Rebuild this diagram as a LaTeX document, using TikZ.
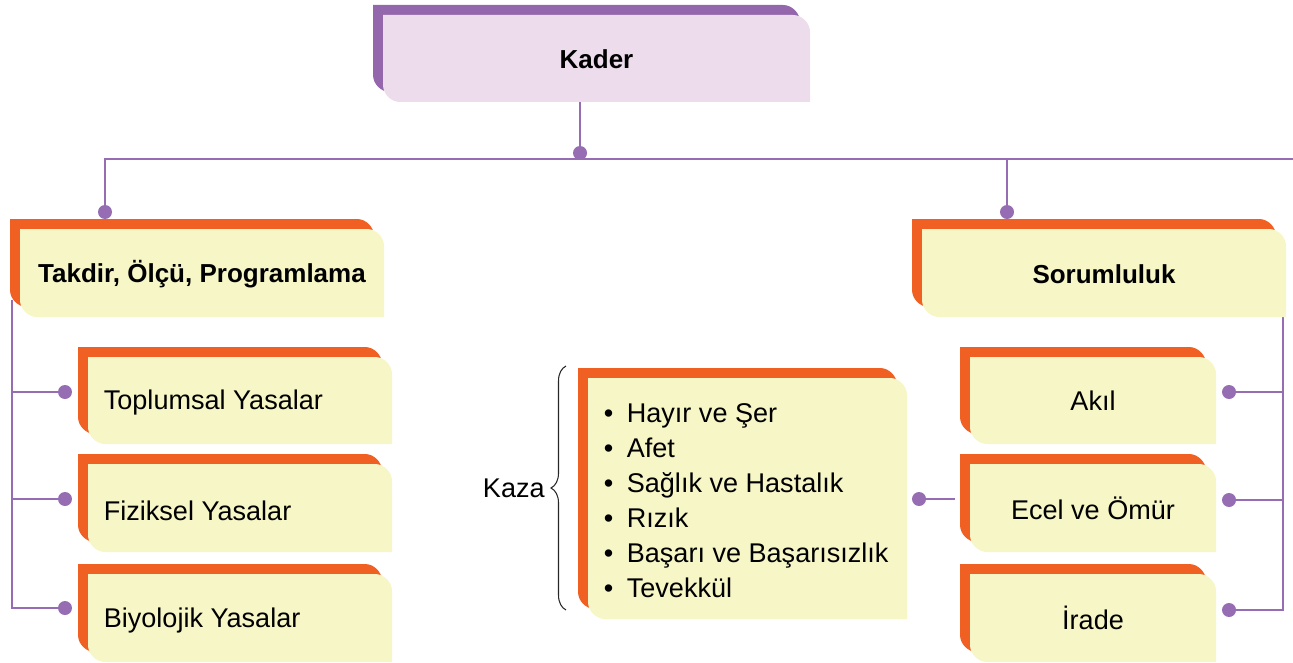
\documentclass[tikz,border=0pt]{standalone}
\usepackage{fontspec}
\setmainfont{Liberation Sans}
\usetikzlibrary{fit,backgrounds,decorations.pathreplacing}

\definecolor{kaderback}{RGB}{148,103,173}
\definecolor{kaderfront}{RGB}{236,220,236}
\definecolor{tagback}{RGB}{241,96,35}
\definecolor{tagfront}{RGB}{247,246,198}
\definecolor{linkcol}{RGB}{150,108,178}

% tab shape: square top-left, rounded top-right and bottom-left
\newcommand\panelshape[5]{%
  \fill[#5] (#1,#2) -- ({#3-17},#2) .. controls ({#3-8},#2) and (#3,{#2+8}) .. (#3,{#2+17})
    -- (#3,#4) -- ({#1+17},#4) .. controls ({#1+8},#4) and (#1,{#4-8}) .. (#1,{#4-17}) -- cycle;}
\newcommand\panel[7]{%
  \begin{scope}[shift={(-10,-10)}]\panelshape{#2}{#3}{#4}{#5}{#6}\end{scope}
  \panelshape{#2}{#3}{#4}{#5}{#7}
  \node[fit={(#2,#3) (#4,#5)}, inner sep=0pt] (#1) {};}

\begin{document}
\begin{tikzpicture}[x=0.02cm,y=-0.02cm,
  link/.style={draw=linkcol,line width=1.5pt},
  dot/.style={circle,fill=linkcol,inner sep=0pt,minimum size=0.28cm},
  head/.style={font=\fontsize{14.8}{18}\selectfont\bfseries},
  item/.style={font=\fontsize{15.4}{19.9}\selectfont}]

	\useasboundingbox (0,0) rectangle (1293,662);

	%boxes
	\panel{kader}{383}{15}{810}{102}{kaderback}{kaderfront}
	\panel{takdir}{20}{229}{384}{317}{tagback}{tagfront}
	\panel{sorum}{922}{229}{1286}{317}{tagback}{tagfront}
	\panel{toplum}{88}{357}{392}{444}{tagback}{tagfront}
	\panel{fizik}{88}{464}{392}{552}{tagback}{tagfront}
	\panel{biyo}{88}{574}{392}{662}{tagback}{tagfront}
	\panel{kaza}{588}{378}{907}{619}{tagback}{tagfront}
	\panel{akil}{970}{357}{1216}{444}{tagback}{tagfront}
	\panel{ecel}{970}{464}{1216}{552}{tagback}{tagfront}
	\panel{irade}{970}{574}{1216}{662}{tagback}{tagfront}

	%texts
	\node[head] (kaderT) at ([yshift=-0.02cm]kader.center) {Kader};
	\node[head] (takdirT) at ([yshift=-0.02cm]takdir.center) {Takdir, Ölçü, Programlama};
	\node[head] (sorumT) at ([yshift=-0.02cm]sorum.center) {Sorumluluk};
	\node[item,anchor=west] (toplumT) at ([xshift=0.2cm,yshift=-0.05cm]toplum.west) {Toplumsal Yasalar};
	\node[item,anchor=west] (fizikT) at ([xshift=0.2cm,yshift=-0.05cm]fizik.west) {Fiziksel Yasalar};
	\node[item,anchor=west] (biyoT) at ([xshift=0.2cm,yshift=-0.05cm]biyo.west) {Biyolojik Yasalar};
	\node[item] (akilT) at (akil.center) {Akıl};
	\node[item] (ecelT) at (ecel.center) {Ecel ve Ömür};
	\node[item] (iradeT) at (irade.center) {İrade};
	\node[item,align=left,anchor=west] (kazaT) at ([xshift=0.2cm,yshift=-0.04cm]kaza.west)
		{•\enspace Hayır ve Şer\\ •\enspace Afet\\ •\enspace Sağlık ve Hastalık\\
		 •\enspace Rızık\\ •\enspace Başarı ve Başarısızlık\\ •\enspace Tevekkül};

	%brace
	\coordinate (braceB) at (566,610);
	\coordinate (braceT) at (566,366);
	\draw[decorate,decoration={brace,amplitude=0.3cm},black!85,line width=0.6pt]
		(braceB) -- (braceT) node[midway,left=0.3cm,item,black] (kazaL) {Kaza};

	%dots
	\node[dot] (dK) at (580,153) {};
	\node[dot] (dT) at (105,212) {};
	\node[dot] (dS) at (1007,212) {};
	\node[dot] (d1) at (65,392) {};
	\node[dot] (d2) at (65,499) {};
	\node[dot] (d3) at (65,608) {};
	\node[dot] (dA) at (1229,392) {};
	\node[dot] (dE) at (1229,500) {};
	\node[dot] (dI) at (1229,610) {};
	\node[dot] (dKaza) at (919,499) {};

	\coordinate (hub) at (580,159);
	\coordinate (rightend) at (1293,159);
	\coordinate (lspine) at (12,300);
	\coordinate (rspine) at (1283,300);
	\coordinate (ecelIn) at (955,499);

	%connectors
	\begin{scope}[on background layer]
		\draw[link] (kader.south -| hub) -- (dK.center);
		\draw[link] (dT.center) |- (rightend);
		\draw[link] (dS.center) -- (dS.center |- hub);
		\draw[link] (lspine) |- (d1.center);
		\draw[link] (lspine) |- (d2.center);
		\draw[link] (lspine) |- (d3.center);
		\draw[link] (rspine) |- (dA.center);
		\draw[link] (rspine) |- (dE.center);
		\draw[link] (rspine) |- (dI.center);
		\draw[link] (dKaza.center) -- (ecelIn);
	\end{scope}

\end{tikzpicture}
\end{document}
